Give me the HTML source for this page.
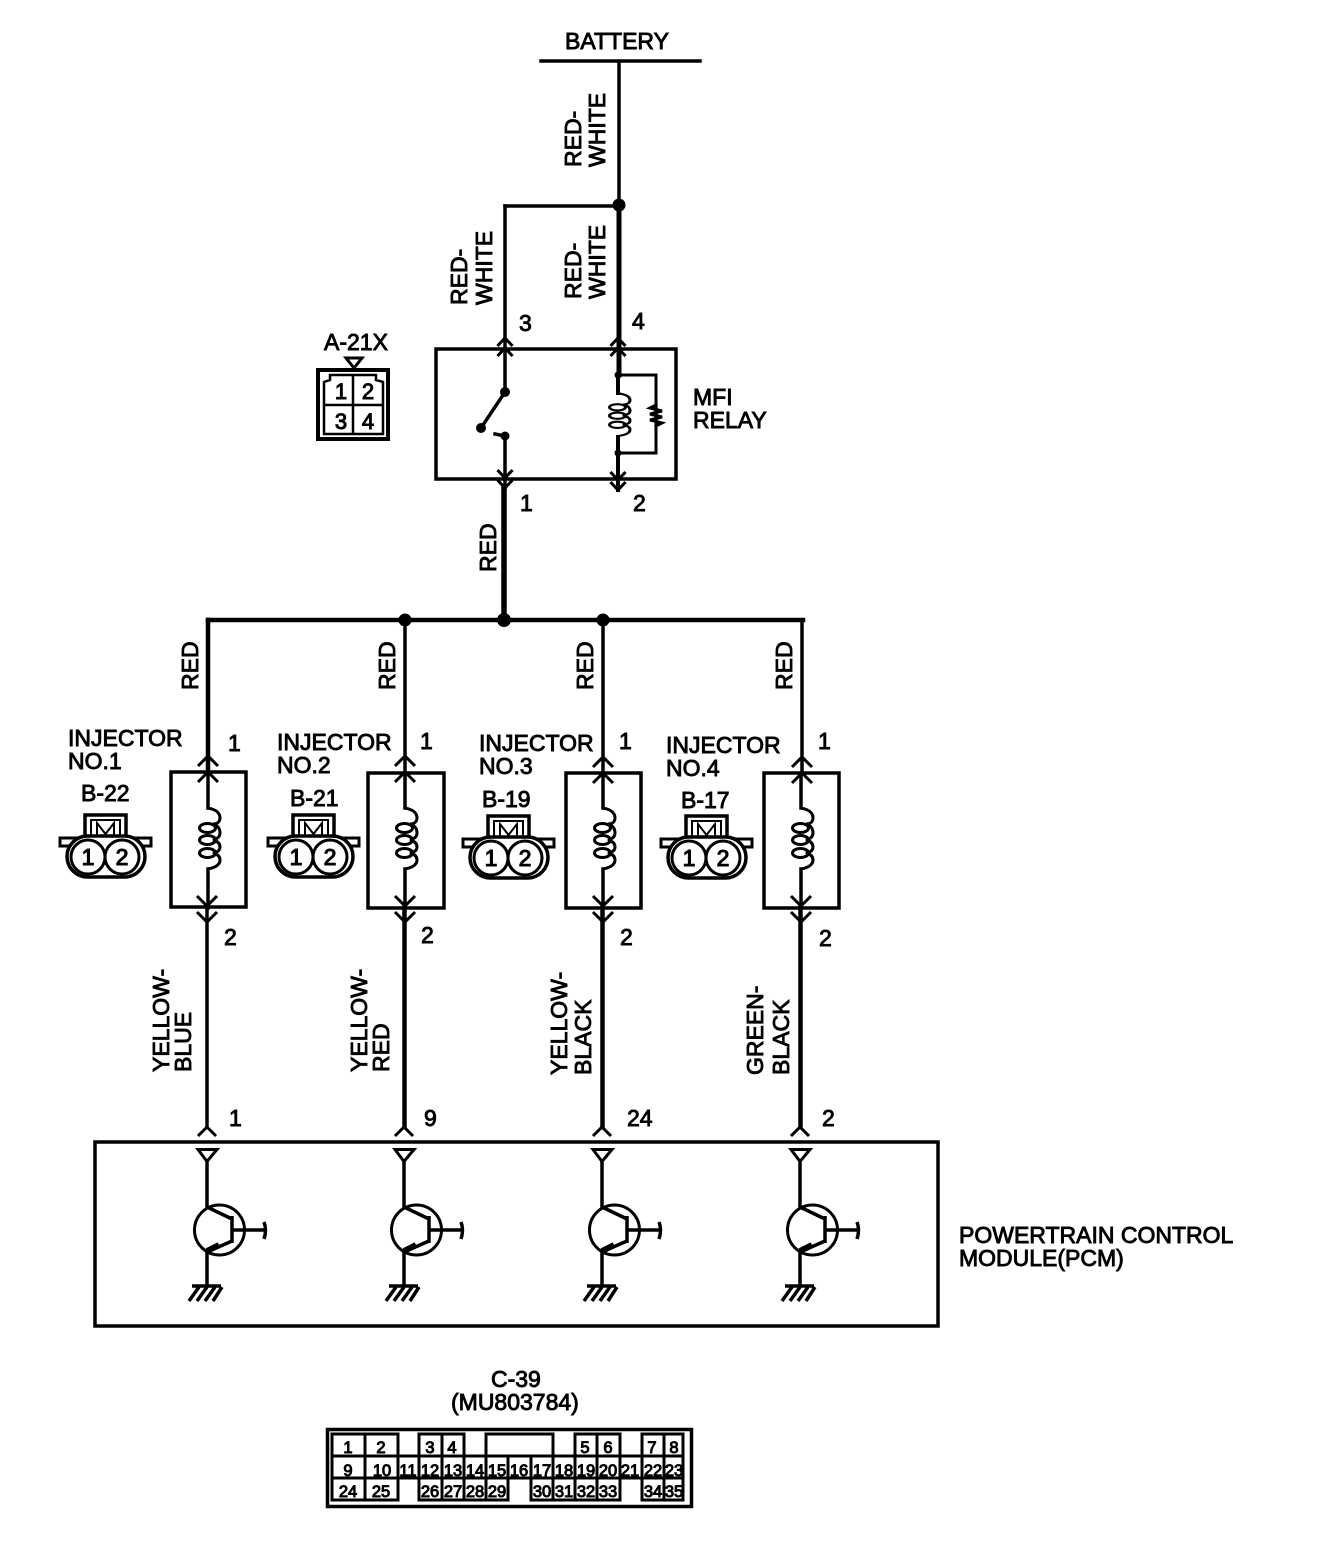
<!DOCTYPE html>
<html><head><meta charset="utf-8"><style>
html,body{margin:0;padding:0;background:#fff}
svg{display:block}
text{font-family:"Liberation Sans",sans-serif;font-size:23px;fill:#000;stroke:#000;stroke-width:.9}
.s{font-size:23px;stroke-width:1.1;text-anchor:middle}
.g{font-size:16.500px;stroke-width:1;text-anchor:middle}
.a{font-size:22px;stroke-width:1;text-anchor:middle}
</style></head><body>
<svg width="1328" height="1558" viewBox="0 0 1328 1558" xmlns="http://www.w3.org/2000/svg">
<defs>
<g id="up" fill="none" stroke="#000" stroke-width="3"><path d="M-10 11L0 1L10 11M-10 27L0 17L10 27"/></g>
<g id="dn" fill="none" stroke="#000" stroke-width="3"><path d="M-10 -12L0 -2L10 -12M-10 -28L0 -18L10 -28"/></g>
<g id="rup" fill="none" stroke="#000" stroke-width="3"><path d="M-7.500 8L0 0L7.500 8M-7.500 18L0 10L7.500 18"/></g>
<g id="rdn" fill="none" stroke="#000" stroke-width="3"><path d="M-7.500 -8L0 0L7.500 -8M-7.500 -18L0 -10L7.500 -18"/></g>
<g id="coil" fill="none" stroke="#000" stroke-width="3">
<path d="M0 -31C5 -30 12 -28 12 -21C12 -17 9 -15 5 -15C9 -14 12 -11 12 -6C12 -2 9 0 5 1C9 2 12 4 12 8C12 12 9 13 5 14C9 15 12 17 12 21C12 27 5 29 0 30"/>
<ellipse cx="-.5" cy="-11" rx="8" ry="4.500"/><ellipse cx="-.5" cy="1" rx="8" ry="4.500"/><ellipse cx="-.5" cy="14" rx="8" ry="4.500"/>
</g>
<g id="conn">
<rect x="25" y="815" width="41" height="24" fill="#fff" stroke="#000" stroke-width="3.500"/>
<rect x="31" y="820" width="29" height="19" fill="#fff" stroke="#000" stroke-width="2"/>
<path d="M37 838V823L45.500 834L54 823V838" fill="none" stroke="#000" stroke-width="2"/>
<path d="M0 838H91V846H0Z" fill="#fff" stroke="#000" stroke-width="3"/>
<rect x="7" y="836" width="78" height="41" rx="20.500" fill="#fff" stroke="#000" stroke-width="3.500"/>
<circle cx="28" cy="857" r="17" fill="#fff" stroke="#000" stroke-width="3"/>
<circle cx="62" cy="857" r="17" fill="#fff" stroke="#000" stroke-width="3"/>
</g>
<g id="tr" fill="none" stroke="#000" stroke-width="3.500">
<path d="M-9 1149.500H10L0 1161.500Z" stroke-width="3"/>
<path d="M0 1161V1207L25 1219M25 1216V1243M25 1230H58M25 1241L0 1252V1286"/>
<path d="M57 1222Q60 1230 57 1239" stroke-width="3.500"/>
<circle cx="12.500" cy="1230" r="25" stroke-width="3"/>
<path d="M0 1251L12 1245" stroke-width="6"/>
<path d="M-15 1286H14M-8 1287L-18 1301M0 1287L-10 1301M8 1287L-2 1301M15 1287L6 1301" stroke-width="3.500"/>
</g>
</defs>
<rect width="1328" height="1558" fill="#fff"/>

<g fill="none" stroke="#000" stroke-linecap="square">
<path d="M541 61H700" stroke-width="3.500"/>
<path d="M619 62V205" stroke-width="3.500"/>
<path d="M619 205V375" stroke-width="5"/>
<path d="M505 206H619" stroke-width="3.500"/>
<path d="M505 206V392" stroke-width="3.500"/>
<rect x="436" y="349" width="240" height="130" stroke-width="3.500"/>
<path d="M505 392L481 428" stroke-width="3.500"/>
<path d="M495 434L505 436V488" stroke-width="3.500"/>
<path d="M618 375H656V453H618" stroke-width="3"/>
<path d="M618 375V393M618 437V490" stroke-width="4"/>
<path d="M656 405L650 408L662 411L650 414L662 417L650 420L662 423L656 426" stroke-width="3"/>
<path d="M504 488V620" stroke-width="5.500"/>
<path d="M208 620H803" stroke-width="4.500"/>
<path d="M208 620V770" stroke-width="4.500"/>
<path d="M405 620V772" stroke-width="3.500"/>
<path d="M603 620V772" stroke-width="3.500"/>
<path d="M802 620V772" stroke-width="3.500"/>
<rect x="171" y="772" width="75" height="135" stroke-width="3.500"/>
<rect x="368" y="773" width="76" height="135" stroke-width="3.500"/>
<rect x="566" y="773" width="75" height="135" stroke-width="3.500"/>
<rect x="764" y="773" width="75" height="135" stroke-width="3.500"/>
<path d="M208 775V808M208 869V908M405 775V808M405 869V908M603 775V808M603 869V908M801 775V808M801 869V908" stroke-width="3.500"/>
<path d="M207 908V1127" stroke-width="3.500"/>
<path d="M404.500 908V1127" stroke-width="4.500"/>
<path d="M602.500 908V1127" stroke-width="4.500"/>
<path d="M800.500 908V1127" stroke-width="4.500"/>
<rect x="95" y="1142" width="843" height="184" stroke-width="3.500"/>
</g>

<g fill="#000">
<circle cx="619" cy="205" r="6.500"/><circle cx="405" cy="620" r="6.500"/><circle cx="504" cy="620" r="7"/><circle cx="603" cy="620" r="6.500"/>
<circle cx="505" cy="392" r="5"/><circle cx="481" cy="428" r="5"/><circle cx="505" cy="436" r="4.500"/>
<circle cx="618" cy="375" r="3.500"/><circle cx="618" cy="453" r="3.500"/>
</g>

<use href="#rup" x="505" y="338"/><use href="#rup" x="618" y="338"/>
<use href="#rdn" x="505" y="488"/><use href="#rdn" x="618" y="490"/>
<g transform="translate(618 415) scale(1 .7)"><use href="#coil"/></g>

<use href="#up" x="208" y="755"/><use href="#up" x="405" y="755"/><use href="#up" x="603" y="756"/><use href="#up" x="802" y="756"/>
<use href="#dn" x="207" y="924"/><use href="#dn" x="405" y="924"/><use href="#dn" x="603" y="924"/><use href="#dn" x="801" y="924"/>
<use href="#coil" x="208" y="839"/><use href="#coil" x="405" y="839"/><use href="#coil" x="603" y="839"/><use href="#coil" x="801" y="839"/>

<g fill="none" stroke="#000" stroke-width="3">
<path d="M198 1136L207 1127L216 1136M395 1136L404 1127L413 1136M593 1136L602 1127L611 1136M791 1136L800 1127L809 1136"/>
</g>
<use href="#tr" x="207"/><use href="#tr" x="404"/><use href="#tr" x="602"/><use href="#tr" x="800"/>

<use href="#conn" x="60"/><use href="#conn" x="268"/><use href="#conn" x="463" y="1"/><use href="#conn" x="661" y="1"/>

<!-- A-21X -->
<g fill="none" stroke="#000">
<rect x="318" y="370" width="70" height="69" stroke-width="4"/>
<path d="M324 434V382L330 380V375H376V380L383 382V434ZM324 405H383M353 375V434" stroke-width="2.500"/>
<path d="M346 358H362L354 368Z" fill="#fff" stroke-width="3"/>
</g>

<!-- C-39 -->
<g fill="none" stroke="#000">
<rect x="327.500" y="1429.500" width="364" height="77" stroke-width="3.500"/>
<path d="M332 1456V1434H398V1456M365 1434V1500M419 1456V1434H464V1456M442 1434V1500M486 1456V1434H553V1456M575 1456V1434H620V1456M597 1434V1500M642 1456V1434H683V1456M664 1434V1500
M332 1456H683V1478H332ZM332 1478V1500H398V1478M398 1456V1478M419 1456V1500H508V1478M464 1456V1500M486 1456V1500M508 1456V1478M531 1456V1500H620V1478M553 1456V1500M575 1456V1500M620 1456V1478M642 1456V1500H683V1456" stroke-width="3"/>
</g>

<!-- labels -->
<text x="565" y="49">BATTERY</text>
<text transform="translate(581 167) rotate(-90)">RED-</text>
<text transform="translate(605 167) rotate(-90)">WHITE</text>
<text transform="translate(581 299) rotate(-90)">RED-</text>
<text transform="translate(605 299) rotate(-90)">WHITE</text>
<text transform="translate(467 305) rotate(-90)">RED-</text>
<text transform="translate(492 305) rotate(-90)">WHITE</text>
<text transform="translate(496 572) rotate(-90)">RED</text>
<text transform="translate(198 690) rotate(-90)">RED</text>
<text transform="translate(395 690) rotate(-90)">RED</text>
<text transform="translate(593 690) rotate(-90)">RED</text>
<text transform="translate(792 690) rotate(-90)">RED</text>
<text transform="translate(169 1072) rotate(-90)">YELLOW-</text>
<text transform="translate(191 1072) rotate(-90)">BLUE</text>
<text transform="translate(367 1072) rotate(-90)">YELLOW-</text>
<text transform="translate(389 1072) rotate(-90)">RED</text>
<text transform="translate(567 1075) rotate(-90)">YELLOW-</text>
<text transform="translate(591 1075) rotate(-90)">BLACK</text>
<text transform="translate(763 1075) rotate(-90)">GREEN-</text>
<text transform="translate(789 1075) rotate(-90)">BLACK</text>

<text x="519" y="331">3</text><text x="632" y="329">4</text><text x="520" y="511">1</text><text x="633" y="511">2</text>
<text x="693" y="405">MFI</text><text x="693" y="428">RELAY</text>
<text x="324" y="350">A-21X</text>
<text class="a" x="341" y="399">1</text><text class="a" x="368" y="399">2</text>
<text class="a" x="341" y="429">3</text><text class="a" x="368" y="429">4</text>

<text x="68" y="746">INJECTOR</text><text x="68" y="769">NO.1</text><text x="81" y="801">B-22</text>
<text x="277" y="750">INJECTOR</text><text x="277" y="773">NO.2</text><text x="290" y="806">B-21</text>
<text x="479" y="751">INJECTOR</text><text x="479" y="774">NO.3</text><text x="482" y="807">B-19</text>
<text x="666" y="753">INJECTOR</text><text x="666" y="776">NO.4</text><text x="681" y="808">B-17</text>

<text x="228" y="751">1</text><text x="420" y="749">1</text><text x="619" y="749">1</text><text x="818" y="749">1</text>
<text x="224" y="945">2</text><text x="421" y="943">2</text><text x="620" y="945">2</text><text x="819" y="946">2</text>
<text x="229" y="1126">1</text><text x="424" y="1126">9</text><text x="627" y="1126">24</text><text x="822" y="1126">2</text>

<text class="s" x="88" y="865">1</text><text class="s" x="122" y="865">2</text>
<text class="s" x="296" y="865">1</text><text class="s" x="330" y="865">2</text>
<text class="s" x="491" y="866">1</text><text class="s" x="525" y="866">2</text>
<text class="s" x="689" y="866">1</text><text class="s" x="723" y="866">2</text>

<text x="959" y="1243">POWERTRAIN CONTROL</text><text x="959" y="1266">MODULE(PCM)</text>
<text x="491" y="1387">C-39</text><text x="451" y="1410">(MU803784)</text>

<text class="g" x="348" y="1453">1</text><text class="g" x="381" y="1453">2</text><text class="g" x="430" y="1453">3</text><text class="g" x="452" y="1453">4</text><text class="g" x="585" y="1453">5</text><text class="g" x="608" y="1453">6</text><text class="g" x="652" y="1453">7</text><text class="g" x="674" y="1453">8</text>
<text class="g" x="348" y="1476">9</text><text class="g" x="382" y="1476">10</text><text class="g" x="408" y="1476">11</text><text class="g" x="430" y="1476">12</text><text class="g" x="453" y="1476">13</text><text class="g" x="475" y="1476">14</text><text class="g" x="497" y="1476">15</text><text class="g" x="519" y="1476">16</text><text class="g" x="542" y="1476">17</text><text class="g" x="564" y="1476">18</text><text class="g" x="586" y="1476">19</text><text class="g" x="608" y="1476">20</text><text class="g" x="630" y="1476">21</text><text class="g" x="653" y="1476">22</text><text class="g" x="674" y="1476">23</text>
<text class="g" x="348" y="1497">24</text><text class="g" x="381" y="1497">25</text><text class="g" x="430" y="1497">26</text><text class="g" x="453" y="1497">27</text><text class="g" x="475" y="1497">28</text><text class="g" x="497" y="1497">29</text><text class="g" x="542" y="1497">30</text><text class="g" x="564" y="1497">31</text><text class="g" x="586" y="1497">32</text><text class="g" x="608" y="1497">33</text><text class="g" x="653" y="1497">34</text><text class="g" x="674" y="1497">35</text>
</svg>
</body></html>
